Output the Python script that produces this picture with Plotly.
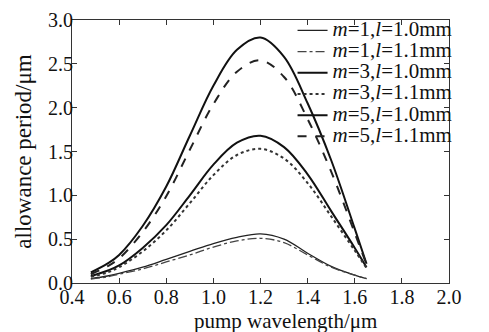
import plotly.graph_objects as go

wavelength = [0.48, 0.55, 0.6, 0.7, 0.8, 0.9, 1.0, 1.1, 1.2, 1.3, 1.4, 1.5, 1.6, 1.65]

m1_l10 = [0.05, 0.08, 0.11, 0.18, 0.27, 0.36, 0.45, 0.52, 0.56, 0.50, 0.34, 0.19, 0.09, 0.05]
m1_l11 = [0.045, 0.07, 0.10, 0.16, 0.24, 0.32, 0.41, 0.48, 0.51, 0.46, 0.32, 0.18, 0.09, 0.05]
m3_l10 = [0.08, 0.14, 0.20, 0.40, 0.66, 1.00, 1.35, 1.60, 1.68, 1.55, 1.24, 0.82, 0.40, 0.18]
m3_l11 = [0.07, 0.12, 0.18, 0.36, 0.60, 0.91, 1.23, 1.46, 1.53, 1.42, 1.14, 0.76, 0.37, 0.17]
m5_l10 = [0.12, 0.22, 0.32, 0.65, 1.10, 1.68, 2.25, 2.66, 2.80, 2.58, 2.05, 1.40, 0.62, 0.22]
m5_l11 = [0.10, 0.19, 0.28, 0.58, 0.99, 1.52, 2.04, 2.41, 2.54, 2.35, 1.87, 1.27, 0.57, 0.21]

labels = ["<i>m</i>=1,<i>l</i>=1.0mm", "<i>m</i>=1,<i>l</i>=1.1mm",
          "<i>m</i>=3,<i>l</i>=1.0mm", "<i>m</i>=3,<i>l</i>=1.1mm",
          "<i>m</i>=5,<i>l</i>=1.0mm", "<i>m</i>=5,<i>l</i>=1.1mm"]
x_title = "pump wavelength/μm"
y_title = "allowance period/μm"
series = [m1_l10, m1_l11, m3_l10, m3_l11, m5_l10, m5_l11]
styles = [("solid", 1.3, "#222"), ("dashdot", 1.3, "#444"),
          ("solid", 2.0, "#111"), ("dot", 2.0, "#333"),
          ("solid", 2.0, "#111"), ("dash", 2.0, "#222")]

fig = go.Figure()
for nm, ys, (dash, w, c) in zip(labels, series, styles):
    fig.add_trace(go.Scatter(
        x=wavelength, y=ys, mode="lines",
        name="<span style='font-size:21px'>" + nm + "</span>",
        line=dict(dash=dash, width=w, color=c, shape="spline")))

font = "Liberation Serif, Times New Roman, serif"
axis_common = dict(showline=True, linecolor="#333", linewidth=1.2, mirror="ticks",
                   ticks="inside", ticklen=5, tickcolor="#333", showgrid=False,
                   zeroline=False, tickfont=dict(family=font, size=20, color="#111"))
fig.update_layout(
    width=489, height=332,
    margin=dict(l=72, r=40, t=20, b=49, autoexpand=False),
    paper_bgcolor="white", plot_bgcolor="white",
    font=dict(family=font, size=22, color="#111"),
    xaxis=dict(range=[0.4, 2.0], dtick=0.2, tickformat=".1f",
               ticklabelstandoff=-4, **axis_common),
    yaxis=dict(range=[0, 3.0], dtick=0.5, tickformat=".1f",
               ticklabelstandoff=-6,
               title=dict(text=y_title, standoff=9,
                          font=dict(family=font, size=23)), **axis_common),
    legend=dict(x=0.585, y=1.02, xanchor="left", yanchor="top",
                bgcolor="rgba(0,0,0,0)", borderwidth=0, itemwidth=30,
                font=dict(family=font, size=14, color="#111"),
                tracegroupgap=0),
    showlegend=True,
)
fig.add_annotation(text=x_title, xref="paper", yref="paper", x=0.565, y=-0.145,
                   xanchor="center", yanchor="middle", showarrow=False,
                   font=dict(family=font, size=21, color="#111"))
fig.write_html("out.html", config={"displayModeBar": False},
               post_script="document.body.style.margin='0';")
